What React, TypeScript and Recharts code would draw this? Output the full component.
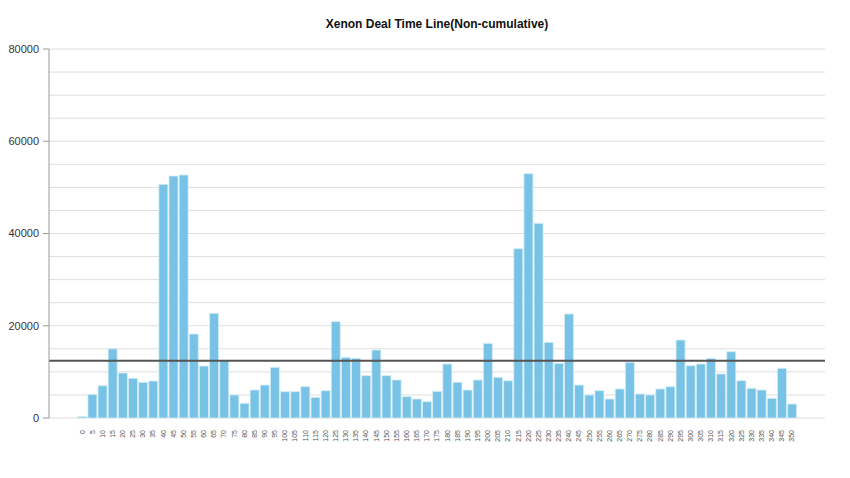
import React from "react";
import { Bar, BarChart, CartesianGrid, ReferenceLine, XAxis, YAxis } from "recharts";

const minutes = [
  0, 5, 10, 15, 20, 25, 30, 35, 40, 45, 50, 55, 60, 65, 70, 75, 80, 85, 90, 95,
  100, 105, 110, 115, 120, 125, 130, 135, 140, 145, 150, 155, 160, 165, 170, 175, 180, 185, 190, 195,
  200, 205, 210, 215, 220, 225, 230, 235, 240, 245, 250, 255, 260, 265, 270, 275, 280, 285, 290, 295,
  300, 305, 310, 315, 320, 325, 330, 335, 340, 345, 350
];

const deals = [
  300, 5100, 7000, 15000, 9750, 8600, 7740, 8020, 50660, 52460, 52680, 18210, 11270, 22690, 12430, 4990, 3180, 6070, 7150, 10990,
  5710, 5710, 6790, 4480, 5930, 20890, 13150, 12930, 9180, 14740, 9180, 8240, 4630, 4120, 3540, 5780, 11710, 7740, 6070, 8240,
  16190, 8820, 8090, 36710, 52970, 42200, 16410, 11850, 22550, 7150, 4990, 5930, 4120, 6290, 12070, 5200, 4990, 6290, 6790, 16910,
  11350, 11710, 12930, 9540, 14380, 8090, 6430, 6070, 4270, 10770, 3040
];

const yTicks = [0, 5000, 10000, 15000, 20000, 25000, 30000, 35000, 40000, 45000, 50000, 55000, 60000, 65000, 70000, 75000, 80000];
const labelledTicks = [0, 20000, 40000, 60000, 80000];
const averageDeals = 12400;

const title = "Xenon Deal Time Line(Non-cumulative)";

const data = minutes.map((m, i) => ({ minute: String(m), deals: deals[i] }));

const font = "'Liberation Sans', Arial, Helvetica, sans-serif";

function YTick(props: any) {
  const { x, y, payload } = props;
  if (!labelledTicks.includes(payload.value)) return <g />;
  return (
    <g>
      <line x1={x + 4} x2={x + 10} y1={y} y2={y} stroke="#999" strokeWidth={1} />
      <text x={x} y={y} dy="0.35em" textAnchor="end" fontSize={11} fill="#333" fontFamily={font}>
        {payload.value}
      </text>
    </g>
  );
}

function XTick(props: any) {
  const { x, y, payload } = props;
  return (
    <text
      x={x}
      y={y}
      dy="0.35em"
      transform={`rotate(-90, ${x}, ${y})`}
      textAnchor="end"
      fontSize={7}
      fill="#555"
      fontFamily={font}
    >
      {payload.value}
    </text>
  );
}

export default function App(): JSX.Element {
  return (
    <div style={{ position: "absolute", left: 0, top: 0, width: 850, height: 478, background: "#fff" }}>
      <div
        style={{
          position: "absolute",
          left: 49,
          width: 776,
          top: 17,
          textAlign: "center",
          fontFamily: font,
          fontWeight: "bold",
          fontSize: 12,
          color: "#111"
        }}
      >
        {title}
      </div>
      <BarChart
        width={850}
        height={478}
        data={data}
        margin={{ top: 49, right: 25, bottom: 10, left: 4 }}
        barCategoryGap={0.75}
      >
        <CartesianGrid vertical={false} stroke="#dedede" strokeWidth={1} />
        <XAxis
          dataKey="minute"
          interval={0}
          axisLine={false}
          tickLine={false}
          height={50}
          padding={{ left: 28, right: 28 }}
          tick={<XTick />}
          tickSize={0}
          tickMargin={12}
        />
        <YAxis
          width={45}
          domain={[0, 80000]}
          ticks={yTicks}
          interval={0}
          tickLine={false}
          tickSize={6}
          tickMargin={4}
          axisLine={{ stroke: "#999", strokeWidth: 1 }}
          tick={<YTick />}
        />
        <Bar dataKey="deals" fill="#77c2e5" stroke="#d6eef8" strokeWidth={0.8} isAnimationActive={false} />
        <ReferenceLine y={averageDeals} stroke="#555" strokeWidth={2} />
      </BarChart>
    </div>
  );
}
